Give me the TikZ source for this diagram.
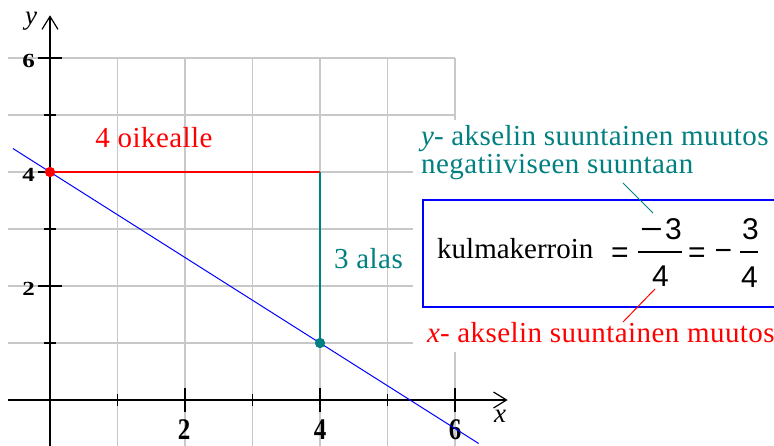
\documentclass[tikz,border=0pt]{standalone}
\usepackage{fontspec}
\setmainfont{Liberation Serif}
\newfontfamily\lbsans{Liberation Sans}
\newfontfamily\spserif[LetterSpace=1.5]{Liberation Serif}
\usetikzlibrary{arrows.meta}
\definecolor{tealc}{RGB}{0,128,128}
\definecolor{gridc}{RGB}{200,200,200}
\definecolor{redc}{RGB}{255,0,0}
\definecolor{bluec}{RGB}{0,0,255}
\newcommand{\ylabtxt}[1]{\scalebox{1.25}[1]{#1}}
\newcommand{\xlabtxt}[1]{\scalebox{1.25}[1.5]{#1}}
\newcommand{\wideminus}{\scalebox{1.3}[1]{−}}
\tikzset{
  gridline/.style={draw=gridc, line width=1.3pt},
  axisline/.style={draw=black, line width=1.5pt, -{Straight Barb[length=13pt,width=16pt,line width=1.2pt]}},
  tickmark/.style={draw=black, line width=1.5pt},
  ticklbl/.style={inner sep=0pt, font=\fontsize{20}{24}\selectfont\bfseries},
  axislbl/.style={inner sep=0pt, font=\fontsize{27}{30}\selectfont\itshape},
  lbl/.style={inner sep=0pt, font=\fontsize{29}{32}\selectfont\spserif},
  fsans/.style={inner sep=0pt, font=\fontsize{30}{34}\selectfont\lbsans},
  kkfont/.style={inner sep=0pt, font=\fontsize{29}{32}\selectfont},
  dotmark/.style={circle, inner sep=0pt, minimum size=10pt},
}
\begin{document}
\begin{tikzpicture}[x=1pt,y=-1pt]
\useasboundingbox[fill=white] (0,0) rectangle (774,445);
\begin{scope}[shift={(50,400)}, x=67.5pt, y=57pt]
  % grid
  \foreach \i in {1,...,6} \draw[gridline] (\i,-0.8) -- (\i,6);
  \foreach \j in {1,...,6} \draw[gridline] (-0.62,\j) -- (6,\j);
\end{scope}
% white area behind the right texts
\fill[white] (413,120) rectangle (774,352);
\begin{scope}[shift={(50,400)}, x=67.5pt, y=57pt]
  % axes
  \coordinate (xs) at (-0.62,0);
  \coordinate (xe) at (6.78,0);
  \coordinate (ys) at (0,-0.8);
  \coordinate (ye) at (0,6.75);
  \draw[axisline] (xs) -- (xe);
  \draw[axisline] (ys) -- (ye);
  % ticks
  \foreach \i in {1,3,5} {
    \draw[tickmark] (\i,0) ++(0,-6pt) -- ++(0,12pt);
    \draw[tickmark] (0,\i) ++(-6pt,0) -- ++(12pt,0);
  }
  \foreach \i in {2,4,6} {
    \draw[tickmark] (\i,0) ++(0,-12pt) -- ++(0,24pt);
    \draw[tickmark] (0,\i) ++(-12pt,0) -- ++(24pt,0);
  }
\end{scope}
% tick labels
\node[ticklbl] (ty6) at (28.5,61) {\ylabtxt{6}};
\node[ticklbl] (ty4) at (28.5,175) {\ylabtxt{4}};
\node[ticklbl] (ty2) at (28.5,289) {\ylabtxt{2}};
\node[ticklbl] (tx2) at (184,430) {\xlabtxt{2}};
\node[ticklbl] (tx4) at (320,430) {\xlabtxt{4}};
\node[ticklbl] (tx6) at (455,430) {\xlabtxt{6}};
\node[axislbl] (ylab) at (31,21) {y};
\node[axislbl] (xlab) at (500,416) {x};
% graph
\begin{scope}[shift={(50,400)}, x=67.5pt, y=57pt]
  \coordinate (ls) at (-0.55,4.4125);
  \coordinate (le) at (6.35,-0.7625);
  \draw[bluec, line width=1pt] (ls) -- (le);
  \coordinate (corner) at (4,4);
  \node[dotmark, fill=redc] (p1) at (0,4) {};
  \node[dotmark, fill=tealc] (p2) at (4,1) {};
  \draw[redc, line width=1.3pt] (p1.center) -- (corner);
  \draw[tealc, line width=1.3pt] (corner) -- (p2.center);
  \node[dotmark, fill=redc] at (p1) {};
  \node[dotmark, fill=tealc] at (p2) {};
\end{scope}
% labels
\node[lbl, text=redc, anchor=base] (oik) at (154,147) {4 oikealle};
\node[lbl, text=tealc, anchor=base west] (alas) at (334,268) {3 alas};
\node[lbl, text=tealc, anchor=base west] (yt1) at (421,145) {{\itshape y}- akselin suuntainen muutos};
\node[lbl, text=tealc, anchor=base west] (yt2) at (421,173) {negatiiviseen suuntaan};
\node[lbl, text=redc, anchor=base west] (xt1) at (427,342) {{\itshape x}- akselin suuntainen muutos};
% formula box
\draw[bluec, line width=1.5pt] (776,200) -- (423,200) -- (423,307) -- (776,307);
\node[kkfont, anchor=base west] (kk) at (437,258) {kulmakerroin};
\node[fsans, anchor=base] (eq1) at (620,262) {=};
\node[fsans, anchor=base] (n1m) at (651.5,239) {\wideminus};
\node[fsans, anchor=base west] (n1d) at (665,239) {3};
\node[fsans, anchor=base] (d1) at (660.5,286) {4};
\coordinate (b1s) at (638,252);
\coordinate (b1e) at (682,252);
\draw[line width=1.3pt] (b1s) -- (b1e);
\node[fsans, anchor=base] (eq2) at (697,262) {=};
\node[fsans, anchor=base] (m2) at (723.5,260) {−};
\node[fsans, anchor=base] (n2) at (750.5,239) {3};
\node[fsans, anchor=base] (d2) at (749.5,287) {4};
\coordinate (b2s) at (740,252);
\coordinate (b2e) at (758,252);
\draw[line width=1.3pt] (b2s) -- (b2e);
% pointers
\coordinate (tpa) at (623,183);
\coordinate (tpb) at (653,213);
\draw[tealc, line width=1pt] (tpa) -- (tpb);
\coordinate (rpa) at (655,289);
\coordinate (rpb) at (623,322);
\draw[redc, line width=1pt] (rpa) -- (rpb);
\end{tikzpicture}
\end{document}
